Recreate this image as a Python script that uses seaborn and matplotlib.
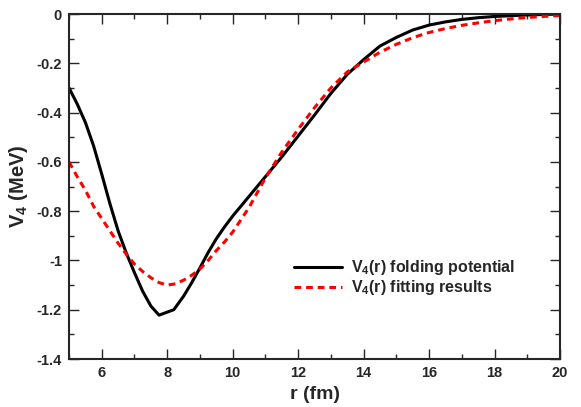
"""
V4(r): folding potential vs fitting results.
"""

import pandas as pd
import matplotlib
matplotlib.use("Agg")
import matplotlib.pyplot as plt
from matplotlib.ticker import MultipleLocator
import seaborn as sns

r_fold = [5.0, 5.25, 5.5, 5.75, 6.0, 6.25, 6.5, 6.75, 7.0, 7.25, 7.5, 7.75,
          8.2, 8.5, 8.75, 9.0, 9.25, 9.5, 9.75, 10.0, 10.25, 10.5, 11.0,
          11.5, 12.0, 12.5, 13.0, 13.5, 14.0, 14.5, 15.0, 15.5, 16.0, 16.5,
          17.0, 17.5, 18.0, 19.0, 20.0]
v_fold = [-0.30, -0.365, -0.44, -0.535, -0.65, -0.77, -0.88, -0.97, -1.05,
          -1.125, -1.185, -1.222, -1.20, -1.145, -1.09, -1.03, -0.968,
          -0.912, -0.864, -0.82, -0.78, -0.74, -0.66, -0.58, -0.495, -0.41,
          -0.322, -0.245, -0.185, -0.13, -0.095, -0.065, -0.045, -0.032,
          -0.022, -0.015, -0.01, -0.004, 0.0]

r_fit = [5.0, 5.25, 5.5, 5.75, 6.0, 6.25, 6.5, 6.75, 7.0, 7.25, 7.5, 7.75,
         8.0, 8.25, 8.5, 8.75, 9.0, 9.25, 9.5, 9.75, 10.0, 10.5, 11.0, 11.5,
         12.0, 12.5, 13.0, 13.5, 14.0, 14.5, 15.0, 15.5, 16.0, 16.5, 17.0,
         17.5, 18.0, 18.5, 19.0, 19.5, 20.0]
v_fit = [-0.60, -0.66, -0.715, -0.78, -0.83, -0.88, -0.93, -0.975, -1.015,
         -1.045, -1.07, -1.09, -1.10, -1.095, -1.08, -1.06, -1.035, -1.00,
         -0.96, -0.925, -0.885, -0.785, -0.665, -0.56, -0.468, -0.38, -0.30,
         -0.235, -0.195, -0.155, -0.123, -0.096, -0.075, -0.059, -0.046,
         -0.036, -0.027, -0.02, -0.014, -0.01, -0.006]

labels = ["V$_4$(r) folding potential", "V$_4$(r) fitting results"]

sns.set_style("ticks")
plt.rcParams["font.family"] = ["Liberation Sans", "DejaVu Sans"]
plt.rcParams["font.weight"] = "bold"
plt.rcParams["mathtext.fontset"] = "custom"
plt.rcParams["mathtext.rm"] = "Liberation Sans:bold"
plt.rcParams["mathtext.it"] = "Liberation Sans:bold"
plt.rcParams["mathtext.bf"] = "Liberation Sans:bold"
plt.rcParams["mathtext.default"] = "rm"

fold = pd.DataFrame({"r": r_fold, "V": v_fold})
fit = pd.DataFrame({"r": r_fit, "V": v_fit})

fig = plt.figure(figsize=(5.81, 4.07), dpi=100)
ax = fig.add_axes([0.1188, 0.1179, 0.8451, 0.8477])

sns.lineplot(data=fold, x="r", y="V", ax=ax, color="black", lw=2.2,
             label=labels[0])
sns.lineplot(data=fit, x="r", y="V", ax=ax, color="#ff0000", lw=2.2,
             label=labels[1])
ax.lines[1].set_dashes([2.2, 1.6])

ax.set_xlim(5, 20)
ax.set_ylim(-1.4, 0)
ax.xaxis.set_major_locator(MultipleLocator(2))
ax.xaxis.set_minor_locator(MultipleLocator(1))
ax.yaxis.set_major_locator(MultipleLocator(0.2))
ax.yaxis.set_minor_locator(MultipleLocator(0.1))
ax.set_yticklabels([f"{t:g}" for t in ax.get_yticks()])

ax.tick_params(which="both", direction="in", top=True, right=True,
               labelsize=10.5, width=1, pad=5)
ax.tick_params(which="major", length=7)
ax.tick_params(which="minor", length=3.5)
for s in ax.spines.values():
    s.set_linewidth(1.5)

ax.set_xlabel("r (fm)", fontsize=14, fontweight="bold", labelpad=4)
ax.set_ylabel("V$_4$ (MeV)", fontsize=14.5, fontweight="bold", labelpad=5)

leg = ax.legend(loc="upper left", bbox_to_anchor=(0.445, 0.31), frameon=False,
                fontsize=11.5, handlelength=3.0, handletextpad=0.6,
                labelspacing=0.05, borderaxespad=0)
leg.get_lines()[1].set_dashes([2.2, 1.6])
for t in leg.get_texts():
    t.set_fontweight("bold")

plt.savefig("out.png", dpi=100)
